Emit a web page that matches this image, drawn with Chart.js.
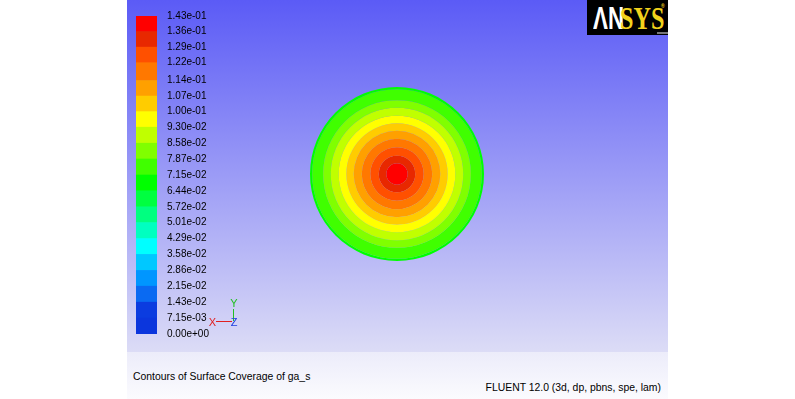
<!DOCTYPE html>
<html>
<head>
<meta charset="utf-8">
<script src="https://cdn.jsdelivr.net/npm/chart.js@4/dist/chart.umd.min.js"></script>
<style>
  body { margin: 0; width: 795px; height: 399px; overflow: hidden; position: relative; background: #fff; font-family: "Liberation Sans", Arial, sans-serif; }
  #panel { position: absolute; left: 127px; top: 0; width: 541px; height: 352px; background: linear-gradient(#5b5bf6, #dcdcf6); }
  #strip { position: absolute; left: 127px; top: 352px; width: 541px; height: 47px; background: linear-gradient(#ececfa, #fbfbfe); }
  #bar { position: absolute; left: 136px; top: 0; }
  #disc { position: absolute; left: 310px; top: 87px; }
  .note { position: absolute; font-size: 10.4px; line-height: 13px; color: #000; white-space: nowrap; }
  #logo { position: absolute; left: 587px; top: 0; width: 81px; height: 35px; background: #000; overflow: hidden; }
  #logo span { position: absolute; font-weight: bold; white-space: nowrap; transform-origin: left top; }
  #an { left: 6px; top: 1px; color: #fff; font: bold 31px "Liberation Sans", sans-serif; transform: scaleX(0.72); }
  #sys { left: 33px; top: 1px; color: #f2d21c; font: bold 31px "Liberation Serif", serif; transform: scaleX(0.78); }
  #reg { left: 74px; top: 3px; color: #f2d21c; font: 5px sans-serif; }
  #tm { position: absolute; left: 70px; top: 32px; width: 11px; height: 2px; background: #777; }
</style>
</head>
<body>
<div id="panel"></div>
<div id="strip"></div>
<canvas id="bar" width="110" height="350"></canvas>
<canvas id="disc" width="174" height="174"></canvas>
<div class="note" style="left:133px; top:370px;">Contours of Surface Coverage of ga_s</div>
<div class="note" style="right:134px; top:381px;">FLUENT 12.0 (3d, dp, pbns, spe, lam)</div>
<div id="logo"><span id="an">ΛN</span><span id="sys">SYS</span><span id="reg">®</span><div id="tm"></div></div>
<script>
// contour levels (bottom to top of the colour bar)
const levels = [0, 7.15e-3, 1.43e-2, 2.15e-2, 2.86e-2, 3.58e-2, 4.29e-2, 5.01e-2, 5.72e-2, 6.44e-2, 7.15e-2,
  7.87e-2, 8.58e-2, 9.30e-2, 1.00e-1, 1.07e-1, 1.14e-1, 1.22e-1, 1.29e-1, 1.36e-1, 1.43e-1];
const tickLabels = ['0.00e+00', '7.15e-03', '1.43e-02', '2.15e-02', '2.86e-02', '3.58e-02', '4.29e-02', '5.01e-02',
  '5.72e-02', '6.44e-02', '7.15e-02', '7.87e-02', '8.58e-02', '9.30e-02', '1.00e-01', '1.07e-01', '1.14e-01',
  '1.22e-01', '1.29e-01', '1.36e-01', '1.43e-01'];
const bandColors = ['#0b36dd', '#0b3ce0', '#0a6af2', '#0096ff', '#00c8ff', '#00ffff', '#00ffc0', '#00ff80',
  '#00ff40', '#00ff00', '#40ff00', '#80ff00', '#c0ff00', '#ffff00', '#ffcc00', '#ffa000', '#ff7800',
  '#ff5000', '#e82800', '#ff0000'];

// contour disc: band shown in each ring, centre first, with its outer radius (r / R)
const ringBands = [19, 18, 17, 16, 15, 14, 13, 12, 11, 10, 9];
const ringOuterRadius = [0.123, 0.210, 0.307, 0.405, 0.498, 0.583, 0.670, 0.761, 0.849, 0.975, 1.0];

// axis triad in the corner of the colour bar canvas
const triad = {
  id: 'triad',
  afterDraw(chart) {
    const c = chart.ctx;
    c.save();
    c.lineWidth = 1;
    c.strokeStyle = '#e02020';
    c.beginPath(); c.moveTo(80, 321.5); c.lineTo(96, 321.5); c.stroke();
    c.strokeStyle = '#20c020';
    c.beginPath(); c.moveTo(97.5, 309); c.lineTo(97.5, 321); c.stroke();
    c.font = '11px "Liberation Sans"';
    c.textAlign = 'center';
    c.textBaseline = 'middle';
    c.fillStyle = '#20c020'; c.fillText('Y', 98, 304);
    c.fillStyle = '#e02020'; c.fillText('X', 76.5, 322.5);
    c.fillStyle = '#2040e0'; c.fillText('Z', 98, 322.5);
    c.restore();
  }
};

new Chart(document.getElementById('bar'), {
  type: 'bar',
  data: {
    labels: ['ga_s'],
    datasets: bandColors.map((c, i) => ({
      data: [levels[i + 1] - levels[i]],
      backgroundColor: c,
      borderWidth: 0,
      barPercentage: 1,
      categoryPercentage: 1
    }))
  },
  options: {
    responsive: false,
    animation: false,
    events: [],
    layout: { padding: { top: 13, bottom: 16, left: 0, right: 0 } },
    plugins: { legend: { display: false }, tooltip: { enabled: false } },
    scales: {
      x: { display: false, stacked: true },
      y: {
        stacked: true,
        position: 'right',
        min: 0,
        max: levels[levels.length - 1],
        afterBuildTicks: s => { s.ticks = levels.map(v => ({ value: v })); },
        afterFit: s => { s.width = 89; },
        grid: { display: false, drawTicks: false },
        border: { display: false },
        ticks: {
          padding: 10,
          autoSkip: false,
          maxRotation: 0,
          color: '#000',
          font: { family: 'Liberation Sans', size: 10 },
          callback: (v, i) => tickLabels[i]
        }
      }
    }
  },
  plugins: [triad]
});

// rings, outermost dataset first
const rings = ringBands.map((b, i) => ({
  band: b,
  weight: ringOuterRadius[i] - (i ? ringOuterRadius[i - 1] : 0)
})).reverse();

new Chart(document.getElementById('disc'), {
  type: 'doughnut',
  data: {
    labels: ['coverage'],
    datasets: rings.map(r => ({
      data: [1],
      weight: r.weight,
      backgroundColor: bandColors[r.band],
      borderWidth: 0,
      hoverOffset: 0,
      offset: 0
    }))
  },
  options: {
    responsive: false,
    animation: false,
    events: [],
    cutout: 0,
    spacing: 0,
    plugins: { legend: { display: false }, tooltip: { enabled: false } }
  }
});
</script>
</body>
</html>
